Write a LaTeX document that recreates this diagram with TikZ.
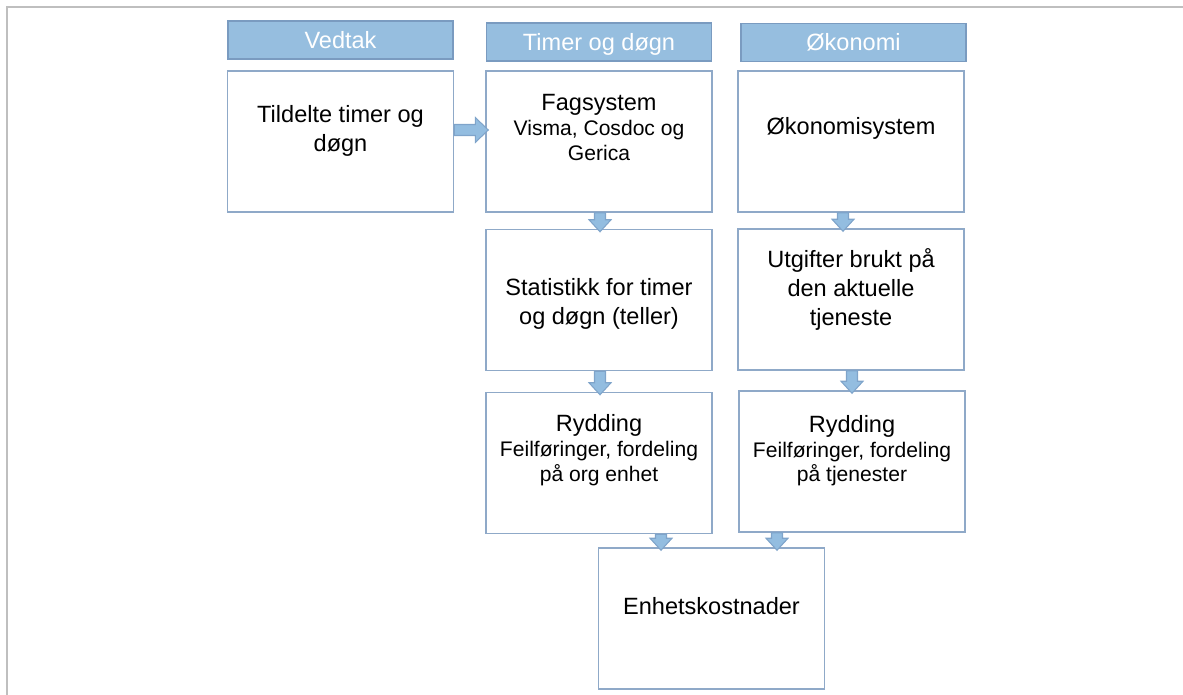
\documentclass[tikz,border=0pt]{standalone}
\usepackage{fontspec}
\setmainfont{Liberation Sans}
\usepackage{tikz}
\usetikzlibrary{calc}
\definecolor{hdrfill}{HTML}{96BEDF}
\definecolor{hdrline}{HTML}{7A9BC0}
\definecolor{boxline}{HTML}{8FA9C8}
\definecolor{arrfill}{HTML}{93BDE0}
\definecolor{arrline}{HTML}{7FA4CA}
\definecolor{frameline}{HTML}{BFBFBF}
\newcommand{\bigsz}{\fontsize{13.4pt}{16.5pt}\selectfont}
\newcommand{\smallsz}{\fontsize{12pt}{14.2pt}\selectfont}
\newcommand{\celltext}[2]{\parbox[c][2.82cm][t]{4.5cm}{\centering\vspace*{#1}#2}}
\newcommand{\downblock}[3]{%
  \draw[blockarrow] let \p1=($(#1)+(#3,0)$), \p2=(#2) in
    (\x1-0.11cm,\y1) -- (\x1+0.11cm,\y1) -- (\x1+0.11cm,\y2+0.18cm) -- (\x1+0.22cm,\y2+0.18cm)
    -- (\x1,\y2-0.06cm) -- (\x1-0.22cm,\y2+0.18cm) -- (\x1-0.11cm,\y2+0.18cm) -- cycle;}
\newcommand{\rightblock}[3]{%
  \draw[blockarrow] let \p1=($(#1)+(0,#3)$), \p2=(#2) in
    (\x1,\y1+0.11cm) -- (\x2-0.2cm,\y1+0.11cm) -- (\x2-0.2cm,\y1+0.25cm) -- (\x2+0.06cm,\y1)
    -- (\x2-0.2cm,\y1-0.25cm) -- (\x2-0.2cm,\y1-0.11cm) -- (\x1,\y1-0.11cm) -- cycle;}

\begin{document}
\begin{tikzpicture}[x=0.02cm,y=-0.02cm,
    hdr/.style={draw=hdrline, line width=1pt, fill=hdrfill, text=white, font=\bigsz,
      minimum width=4.5cm, minimum height=0.76cm, inner sep=0pt, text height=9.6pt, text depth=0pt},
    cell/.style={draw=boxline, line width=0.85pt, fill=white, font=\bigsz,
      minimum width=4.52cm, minimum height=2.82cm, inner sep=0pt},
    blockarrow/.style={draw=arrline, fill=arrfill, line width=0.6pt, line join=miter}]
  \useasboundingbox (0,0) rectangle (1183,695);
  \draw[frameline, line width=1.1pt] (7,695) -- (7,7) -- (1183,7);

  \node[hdr] (vedtak) at (340.5,40) {Vedtak};
  \node[hdr] (timer) at (599,42) {Timer og døgn};
  \node[hdr] (okonomi) at (853.5,42.5) {Økonomi};

  \node[cell] (tild) at (340.5,141.5) {\celltext{0.68cm}{Tildelte timer og\\døgn}};
  \node[cell] (fag) at (599,141.5) {\celltext{0.46cm}{Fagsystem\par\smallsz Visma, Cosdoc og\\Gerica}};
  \node[cell] (oko) at (851,141.5) {\celltext{0.92cm}{Økonomisystem}};

  \node[cell] (stat) at (599,300) {\celltext{0.98cm}{Statistikk for timer\\og døgn (teller)}};
  \node[cell] (utg) at (851,299.5) {\celltext{0.4cm}{Utgifter brukt på\\den aktuelle\\tjeneste}};

  \node[cell] (rydA) at (599,463) {\celltext{0.44cm}{Rydding\par\smallsz Feilføringer, fordeling\\på org enhet}};
  \node[cell] (rydB) at (852,461.5) {\celltext{0.48cm}{Rydding\par\smallsz Feilføringer, fordeling\\på tjenester}};

  \node[cell] (enh) at (711.5,618.5) {\celltext{0.98cm}{Enhetskostnader}};

  \rightblock{tild.east}{fag.west}{-11.5}
  \downblock{fag.south}{stat.north}{1}
  \downblock{oko.south}{utg.north}{-8}
  \downblock{stat.south}{rydA.north}{1}
  \downblock{utg.south}{rydB.north}{1}
  \downblock{rydA.south}{enh.north}{62}
  \downblock{rydB.south}{enh.north}{-75}
\end{tikzpicture}
\end{document}
